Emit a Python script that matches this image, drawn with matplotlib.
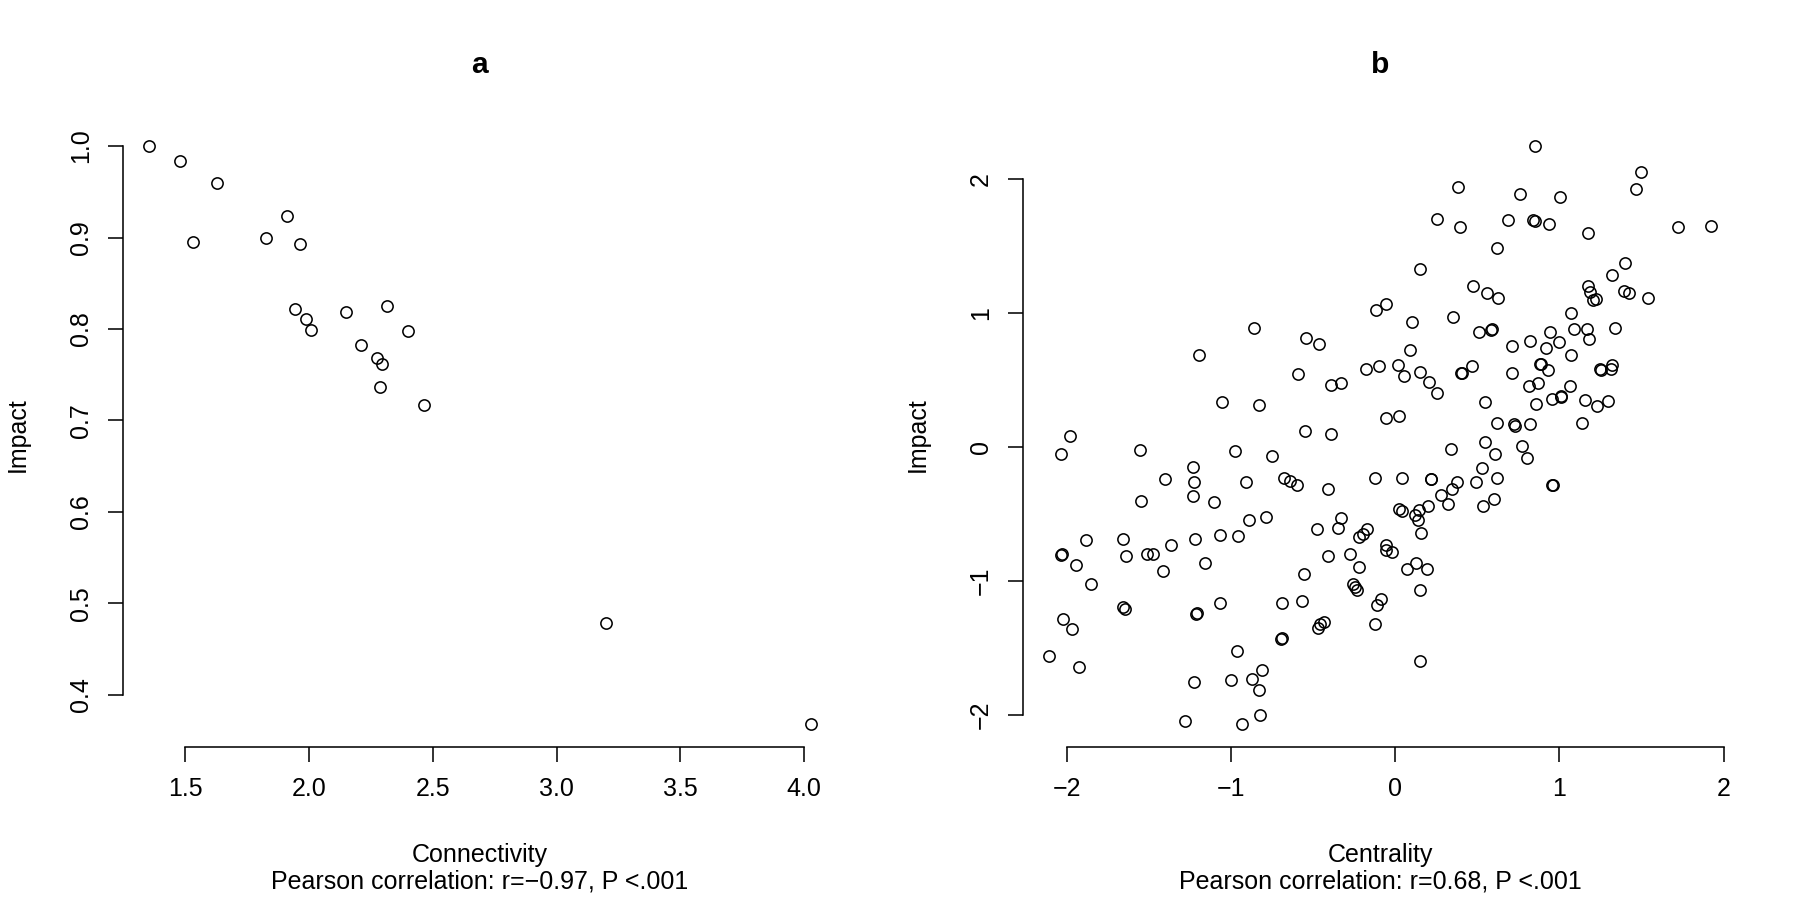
import matplotlib
matplotlib.use("Agg")
import matplotlib.pyplot as plt

plt.rcParams['font.family'] = ['Liberation Sans', 'DejaVu Sans']

# ---------------- data ----------------
connectivity = [1.355, 1.480, 1.627, 1.531, 1.910, 1.826, 1.962, 1.945, 1.986, 2.008,
                2.151, 2.313, 2.398, 2.210, 2.273, 2.295, 2.287, 2.466, 3.200, 4.026]
impact_a = [1.000, 0.984, 0.960, 0.895, 0.924, 0.900, 0.893, 0.822, 0.811, 0.799,
            0.819, 0.825, 0.798, 0.782, 0.768, 0.762, 0.736, 0.717, 0.478, 0.368]

centrality = [
    -0.117, -0.860, -0.543, -0.462, -1.191, -0.592, -0.387, -0.328, -0.178, -0.099, -1.052, -0.827,
    0.850, 1.497, 1.467, 0.381, 0.762, 1.006, 0.257, 0.393, 0.689, 0.843, 0.850, 0.937, 1.176,
    1.725, 1.921, 0.620, 1.400, 1.319, 0.151, 0.476, 0.557, 0.626, 1.176, 1.187, 1.203, 1.221,
    1.394, 1.424, 1.542, -0.058, 1.071, 0.105, 0.354, 0.513, 0.584, 0.590, 0.943, 1.091, 1.170,
    1.178, 1.337, 0.996, 0.819, 0.714, 0.921, 0.093, 1.071, 0.017, 0.054, 0.151, 0.206, 0.253,
    0.405, 0.400, 0.468, 0.714, 0.882, 0.887, 0.933, 0.815, 0.870, 1.067, 1.008, 1.013, 0.953,
    0.860, 1.154, 1.231, 1.296, 1.245, 1.255, 1.312, 1.323, 0.547, -0.058, 0.027,
    -1.976, -2.031, -1.550, -0.973, -0.746, -0.549, -0.387, -1.229, -1.225, -1.229, -1.398,
    -1.544, -1.103, -0.906, -0.675, -0.641, -0.594, -0.407, -0.123, -0.326, -0.348, -0.474,
    -0.784, -0.888, -0.957, -1.063, -1.217, -1.363, -1.473, -1.509, -1.414, -1.156, -1.655,
    -1.639, -1.883, -2.031, -2.026, -1.942, -1.854, -0.557, -0.409, -0.273, -0.220, -0.222,
    -0.198, -0.169, -0.255, -0.241, -0.230, -0.088, -0.109, -0.119, -0.569, -0.691, -1.063,
    -1.213, -1.208, -1.655, -1.643, -2.021, -1.966, -2.104, -1.926, -0.961, -0.693, -0.688,
    -0.434, -0.454, -0.470, -0.807, -0.870, -0.998, -1.225, -0.827, -0.823, -0.933, -1.278,
    0.622, 0.724, 0.730, 0.823, 1.140, 0.338, 0.547, 0.608, 0.772, 0.805, 0.527, 0.496, 0.622,
    0.379, 0.344, 0.281, 0.322, 0.533, 0.600, 0.957, 0.962, 0.044, 0.216, 0.221, 0.202, 0.027,
    0.042, 0.145, 0.121, 0.142, 0.161, -0.058, -0.058, -0.018, 0.125, 0.070, 0.194, 0.149, 0.149,
]
impact_b = [
    1.027, 0.892, 0.817, 0.772, 0.690, 0.548, 0.466, 0.478, 0.585, 0.605, 0.336, 0.316,
    2.248, 2.051, 1.931, 1.939, 1.889, 1.871, 1.707, 1.647, 1.694, 1.694, 1.690, 1.667, 1.602,
    1.640, 1.654, 1.490, 1.378, 1.288, 1.333, 1.201, 1.154, 1.116, 1.203, 1.158, 1.096, 1.109,
    1.163, 1.154, 1.116, 1.071, 1.004, 0.937, 0.974, 0.862, 0.877, 0.880, 0.862, 0.884, 0.879,
    0.807, 0.892, 0.787, 0.790, 0.757, 0.739, 0.722, 0.690, 0.615, 0.528, 0.563, 0.488, 0.406,
    0.555, 0.550, 0.605, 0.555, 0.623, 0.618, 0.573, 0.458, 0.481, 0.458, 0.376, 0.378, 0.356,
    0.324, 0.353, 0.309, 0.343, 0.585, 0.578, 0.585, 0.615, 0.339, 0.216, 0.234,
    0.079, -0.050, -0.020, -0.028, -0.070, 0.122, 0.099, -0.147, -0.262, -0.364, -0.237,
    -0.402, -0.409, -0.260, -0.230, -0.255, -0.282, -0.312, -0.230, -0.529, -0.604, -0.616,
    -0.521, -0.549, -0.664, -0.656, -0.691, -0.731, -0.798, -0.798, -0.925, -0.865, -0.691,
    -0.813, -0.698, -0.805, -0.800, -0.880, -1.022, -0.947, -0.813, -0.803, -0.895, -0.674,
    -0.648, -0.614, -1.022, -1.047, -1.067, -1.134, -1.184, -1.321, -1.149, -1.164, -1.164,
    -1.246, -1.241, -1.192, -1.212, -1.284, -1.361, -1.560, -1.643, -1.528, -1.433, -1.430,
    -1.304, -1.326, -1.351, -1.665, -1.733, -1.740, -1.755, -1.815, -1.999, -2.069, -2.047,
    0.182, 0.174, 0.156, 0.169, 0.182, -0.013, 0.040, -0.050, 0.010, -0.080, -0.155, -0.260, -0.230,
    -0.260, -0.315, -0.357, -0.424, -0.439, -0.387, -0.282, -0.285, -0.230, -0.237, -0.240, -0.439, -0.461,
    -0.476, -0.474, -0.506, -0.549, -0.641, -0.736, -0.773, -0.783, -0.868, -0.910, -0.910, -1.067, -1.598,
]

xticks_a = [1.5, 2.0, 2.5, 3.0, 3.5, 4.0]
yticks_a = [0.4, 0.5, 0.6, 0.7, 0.8, 0.9, 1.0]
xticks_b = [-2, -1, 0, 1, 2]
yticks_b = [-2, -1, 0, 1, 2]

titles = ["a", "b"]
xlabels = ["Connectivity", "Centrality"]
subs = ["Pearson correlation: r=\u22120.97, P <.001",
        "Pearson correlation: r=0.68, P <.001"]
ylabel = "Impact"

# ---------------- figure ----------------
W, H = 1800, 900
fig = plt.figure(figsize=(W / 100, H / 100), dpi=100)

FS = 18
LW = 1.125
panels = [
    (connectivity, impact_a, xticks_a, yticks_a, "{:.1f}"),
    (centrality, impact_b, xticks_b, yticks_b, "{:g}"),
]

for i, (xs, ys, xt, yt, fmt) in enumerate(panels):
    left_px = 123 + i * 900
    ax = fig.add_axes([left_px / W, 153 / H, 714 / W, 624 / H])
    ax.plot(xs, ys, linestyle='none', marker='o', mfc='none', mec='black',
            ms=8.1, mew=LW, clip_on=False)
    ax.margins(0.04)
    ax.set_xticks(xt)
    ax.set_yticks(yt)
    ax.set_xticklabels([fmt.format(v).replace('-', '\u2212') for v in xt])
    ax.set_yticklabels([fmt.format(v).replace('-', '\u2212') for v in yt])
    for s in ['top', 'right']:
        ax.spines[s].set_visible(False)
    for s in ['left', 'bottom']:
        ax.spines[s].set_linewidth(LW)
    ax.spines['bottom'].set_bounds(xt[0], xt[-1])
    ax.spines['left'].set_bounds(yt[0], yt[-1])
    ax.tick_params(direction='out', length=10.8, width=LW, labelsize=FS, pad=10.8)
    for lab in ax.get_yticklabels():
        lab.set_rotation(90)
        lab.set_va('center')
    ax.set_facecolor('none')

    cx = (left_px + 357) / W
    fig.text(cx, (H - 73.3) / H, titles[i], ha='center', va='baseline',
             fontsize=FS * 1.2, fontweight='bold')
    fig.text(cx, (H - 862) / H, xlabels[i], ha='center', va='baseline', fontsize=FS)
    fig.text(cx, (H - 889) / H, subs[i], ha='center', va='baseline', fontsize=FS)
    fig.text((left_px - 105) / W, (H - 435) / H, ylabel, ha='center', va='center',
             rotation=90, fontsize=FS)

fig.savefig("out.png", dpi=100, facecolor='white')
